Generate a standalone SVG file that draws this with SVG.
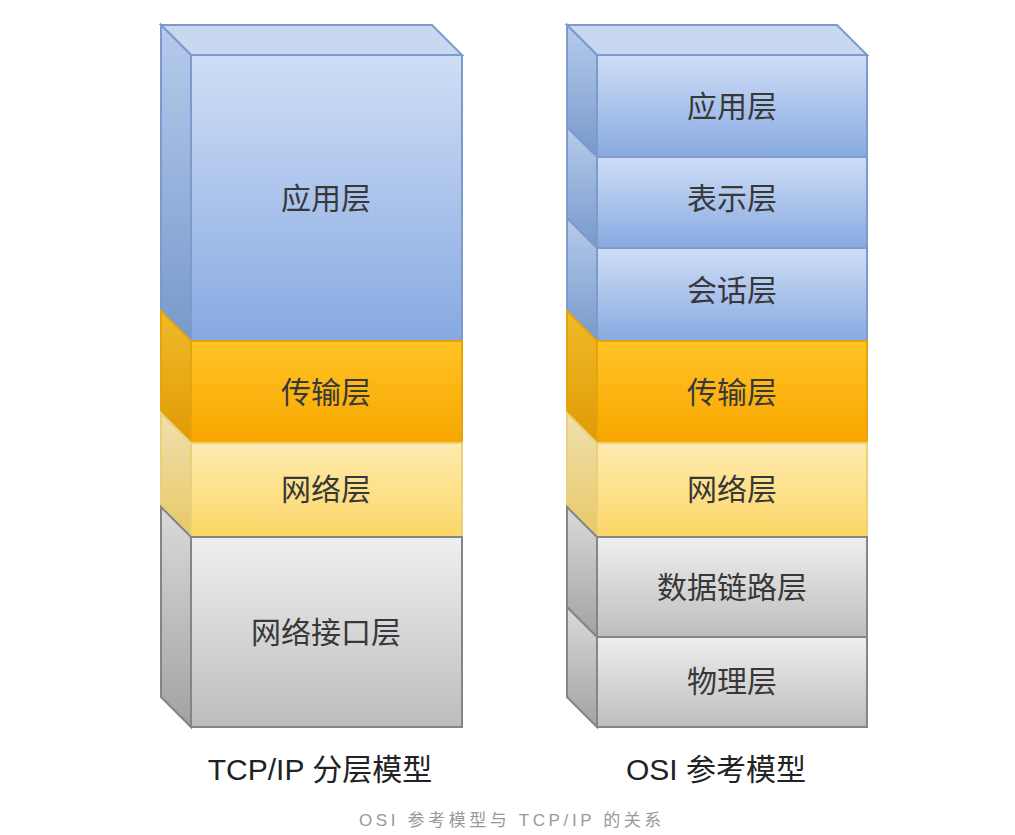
<svg xmlns="http://www.w3.org/2000/svg" width="1015" height="835" viewBox="0 0 1015 835">
<defs>
<linearGradient id="gBlue" x1="0" y1="0" x2="0" y2="1"><stop offset="0" stop-color="#cfdef6"/><stop offset="1" stop-color="#87a9e1"/></linearGradient>
<linearGradient id="gBlueS" x1="0" y1="0" x2="0" y2="1"><stop offset="0" stop-color="#b7cbeb"/><stop offset="1" stop-color="#7799cc"/></linearGradient>
<linearGradient id="gOrange" x1="0" y1="0" x2="0" y2="1"><stop offset="0" stop-color="#ffc425"/><stop offset="1" stop-color="#f8a600"/></linearGradient>
<linearGradient id="gOrangeS" x1="0" y1="0" x2="0" y2="1"><stop offset="0" stop-color="#f0bb2a"/><stop offset="1" stop-color="#e09a05"/></linearGradient>
<linearGradient id="gYellow" x1="0" y1="0" x2="0" y2="1"><stop offset="0" stop-color="#feeab0"/><stop offset="1" stop-color="#fcd766"/></linearGradient>
<linearGradient id="gYellowS" x1="0" y1="0" x2="0" y2="1"><stop offset="0" stop-color="#f0e0b0"/><stop offset="1" stop-color="#e8c865"/></linearGradient>
<linearGradient id="gGray" x1="0" y1="0" x2="0" y2="1"><stop offset="0" stop-color="#efefef"/><stop offset="1" stop-color="#bdbdbd"/></linearGradient>
<linearGradient id="gGrayS" x1="0" y1="0" x2="0" y2="1"><stop offset="0" stop-color="#dadada"/><stop offset="1" stop-color="#a2a2a2"/></linearGradient>
</defs>
<style>
.blue{fill:url(#gBlue);stroke:#7c9acb;stroke-width:2}
.blueS{fill:url(#gBlueS);stroke:#7c9acb;stroke-width:2}
.blueT{fill:#c8d8f0;stroke:#7c9acb;stroke-width:2}
.orange{fill:url(#gOrange);stroke:#e8a30a;stroke-width:2}
.orangeS{fill:url(#gOrangeS);stroke:#e8a30a;stroke-width:2}
.yellow{fill:url(#gYellow);stroke:#ead07a;stroke-width:2}
.yellowS{fill:url(#gYellowS);stroke:#ead07a;stroke-width:2}
.gray{fill:url(#gGray);stroke:#858585;stroke-width:2}
.grayS{fill:url(#gGrayS);stroke:#858585;stroke-width:2}
.lbl{font-family:"Liberation Sans","Noto Sans CJK SC",sans-serif;font-size:30px;fill:#383838;text-anchor:middle}
.cap{font-family:"Liberation Sans","Noto Sans CJK SC",sans-serif;font-size:30px;fill:#222;text-anchor:middle}
.sub{font-family:"Liberation Sans","Noto Sans CJK SC",sans-serif;font-size:17px;fill:#999;text-anchor:middle;letter-spacing:3.6px}
</style>
<rect x="0" y="0" width="1015" height="835" fill="#ffffff"/>

<g id="tcpip">
<g id="tcp-top"><polygon class="blueT" points="161,25 432,25 462,55 191,55"/></g>
<g id="tcp-app">
<polygon class="blueS" points="161,25 191,55 191,341 161,311"/>
<rect class="blue" x="191" y="55" width="271" height="286"/>
<text class="lbl" x="326" y="209">应用层</text>
</g>
<g id="tcp-transport">
<polygon class="orangeS" points="161,311 191,341 191,443 161,413"/>
<rect class="orange" x="191" y="341" width="271" height="102"/>
<text class="lbl" x="326" y="403">传输层</text>
</g>
<g id="tcp-network">
<polygon class="yellowS" points="161,413 191,443 191,537 161,507"/>
<rect class="yellow" x="191" y="443" width="271" height="94"/>
<text class="lbl" x="326" y="500">网络层</text>
</g>
<g id="tcp-link">
<polygon class="grayS" points="161,507 191,537 191,727 161,697"/>
<rect class="gray" x="191" y="537" width="271" height="190"/>
<text class="lbl" x="326" y="643">网络接口层</text>
</g>
<text class="cap" x="320" y="780">TCP/IP 分层模型</text>
</g>

<g id="osi">
<g id="osi-top"><polygon class="blueT" points="567,25 837,25 867,55 597,55"/></g>
<g id="osi-app">
<polygon class="blueS" points="567,25 597,55 597,157 567,127"/>
<rect class="blue" x="597" y="55" width="270" height="102"/>
<text class="lbl" x="732" y="117">应用层</text>
</g>
<g id="osi-pres">
<polygon class="blueS" points="567,127 597,157 597,248 567,218"/>
<rect class="blue" x="597" y="157" width="270" height="91"/>
<text class="lbl" x="732" y="209">表示层</text>
</g>
<g id="osi-sess">
<polygon class="blueS" points="567,218 597,248 597,341 567,311"/>
<rect class="blue" x="597" y="248" width="270" height="93"/>
<text class="lbl" x="732" y="301">会话层</text>
</g>
<g id="osi-transport">
<polygon class="orangeS" points="567,311 597,341 597,443 567,413"/>
<rect class="orange" x="597" y="341" width="270" height="102"/>
<text class="lbl" x="732" y="403">传输层</text>
</g>
<g id="osi-network">
<polygon class="yellowS" points="567,413 597,443 597,537 567,507"/>
<rect class="yellow" x="597" y="443" width="270" height="94"/>
<text class="lbl" x="732" y="500">网络层</text>
</g>
<g id="osi-datalink">
<polygon class="grayS" points="567,507 597,537 597,637 567,607"/>
<rect class="gray" x="597" y="537" width="270" height="100"/>
<text class="lbl" x="732" y="598">数据链路层</text>
</g>
<g id="osi-physical">
<polygon class="grayS" points="567,607 597,637 597,727 567,697"/>
<rect class="gray" x="597" y="637" width="270" height="90"/>
<text class="lbl" x="732" y="692">物理层</text>
</g>
<text class="cap" x="716" y="780">OSI 参考模型</text>
</g>

<text class="sub" x="512" y="826">OSI 参考模型与 TCP/IP 的关系</text>
</svg>
